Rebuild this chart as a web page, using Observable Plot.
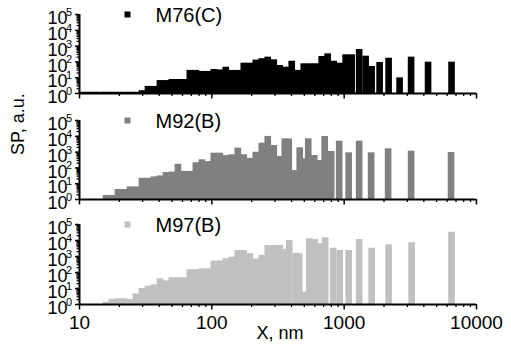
<!DOCTYPE html>
<html>
<head>
<meta charset="utf-8">
<script src="https://cdn.jsdelivr.net/npm/d3@7"></script>
<script src="https://cdn.jsdelivr.net/npm/@observablehq/plot@0.6"></script>
<style>
  html, body { margin: 0; padding: 0; background: #fff; }
  #wrap { position: relative; width: 511px; height: 348px; overflow: hidden; }
  #wrap svg { position: absolute; left: 0; }
</style>
</head>
<body>
<div id="wrap"></div>
<script>
// ---------- data ----------
const majorX = [10, 100, 1000, 10000];
const xTickLabels = ["10", "100", "1000", "10000"];
const majorY = [1, 10, 100, 1000, 10000, 100000];
const yExponents = ["0", "1", "2", "3", "4", "5"];
const seriesNames = ["M76(C)", "M92(B)", "M97(B)"];
const seriesColors = ["#000000", "#808080", "#c0c0c0"];
const xTitle = "X, nm";
const yTitle = "SP, a.u.";

// M76(C): bar centre (nm) and value
const m76X = [10.5, 11.7, 13.0, 14.4, 16.0, 17.7, 19.7, 21.9, 24.3, 26.9, 29.9, 33.2, 36.8, 40.9, 45.4, 50.3, 55.9, 62.0, 68.8, 76.4,
  84.8, 94.1, 104.4, 115.9, 128.6, 142.8, 158.5, 175.9, 195.3, 216.7, 240.5, 266.9, 296.3, 328.9, 365.0, 405.1, 449.6, 499.0, 553.9, 614.8,
  682.3, 757.2, 840.4, 932.8, 1035, 1149, 1309, 1466, 1627, 1869, 2186, 2647, 3232, 4342, 6534];
const m76V = [1.2, 1.2, 1.2, 1.2, 1.2, 1.2, 1.2, 1.2, 1.2, 1.2, 1.5, 2.8, 2.8, 6.6, 6.6, 7.7, 7.7, 7.7, 29, 29,
  25, 25, 33, 31, 46, 29, 29, 83, 83, 130, 160, 200, 135, 59, 46, 110, 29, 76, 76, 76,
  220, 325, 110, 83, 280, 280, 610, 230, 51, 92, 170, 9.8, 200, 96, 96];

// M92(B)
const m92X = [16.0, 17.7, 19.7, 21.9, 24.3, 26.9, 29.9, 33.2, 36.8, 40.9, 45.4, 50.3, 55.9, 62.0, 68.8, 76.4, 84.8, 94.1, 104.4, 115.9,
  128.6, 142.8, 158.5, 175.9, 195.3, 216.7, 240.5, 266.9, 296.3, 328.9, 358.7, 384.6, 423, 465.6, 499, 539.7, 599, 653.4, 718.9, 804.6,
  924.9, 1091, 1309, 1612, 2167, 3232, 6476];
const m92V = [1.8, 1.8, 4.3, 4.3, 6.3, 6.3, 22, 22, 27, 31, 51, 55, 170, 60, 60, 210, 325, 250, 850, 850,
  600, 680, 1780, 680, 400, 980, 3650, 9800, 2600, 530, 6800, 6800, 68, 1880, 375, 6900, 610, 295, 9700, 1100,
  4900, 900, 4900, 900, 1620, 1140, 940];

// M97(B)
const m97X = [16.0, 17.7, 19.7, 21.9, 24.3, 26.9, 29.9, 33.2, 36.8, 40.9, 45.4, 50.3, 55.9, 62.0, 68.8, 76.4, 84.8, 94.1, 104.4, 115.9,
  128.6, 142.8, 158.5, 175.9, 195.3, 216.7, 240.5, 266.9, 296.3, 328.9, 358.7, 387.9, 434, 461.5, 499, 549.1, 604, 659, 725, 833,
  932.8, 1091, 1309, 1627, 2186, 3261, 6534];
const m97V = [1.4, 2.1, 2.3, 2.3, 2.0, 4.5, 10, 14, 17, 40, 30, 47, 47, 47, 150, 150, 170, 170, 510, 530,
  720, 900, 2370, 2370, 1500, 700, 1200, 4900, 4900, 4900, 2800, 10000, 1600, 1500, 6, 12800, 11500, 6200, 14700, 3300,
  2370, 2370, 11500, 3300, 5400, 7200, 33000];

// ---------- drawing ----------
const FONT = "'Liberation Sans', Arial, Helvetica, sans-serif";
const halfWidth = Math.pow(10, 0.025); // bar half width factor on log axis
const minorX = d3.scaleLog().domain([10, 10000]).ticks().filter(d => !majorX.includes(d));
const minorY = d3.scaleLog().domain([1, 100000]).ticks().filter(d => !majorY.includes(d));

function panel(xs, vs, idx, top, height, marginBottom, withLabels) {
  const data = xs.map((x, i) => ({x, v: vs[i]}));
  const color = seriesColors[idx];
  const marks = [
    Plot.rectY(data, {x1: d => d.x / halfWidth, x2: d => d.x * halfWidth, y1: 1, y2: "v", fill: color}),
    Plot.axisX({ticks: minorX, tickSize: 3, tickFormat: () => "", strokeWidth: 1.3}),
    Plot.axisX({ticks: majorX, tickSize: 5.5, tickPadding: 5, strokeWidth: 1.5, fontSize: 19,
      tickFormat: withLabels ? (d => xTickLabels[majorX.indexOf(d)]) : (() => "")}),
    Plot.axisY({ticks: minorY, tickSize: 2.5, tickFormat: () => "", strokeWidth: 1.2}),
    Plot.axisY({ticks: majorY, tickSize: 4, tickFormat: () => "", strokeWidth: 1.5}),
    Plot.ruleY([1], {strokeWidth: 2}),
    Plot.ruleX([10], {strokeWidth: 2}),
    Plot.text(majorY, {y: d => d, frameAnchor: "left", text: () => "10", textAnchor: "end", dx: -12, dy: 4, fontSize: 18}),
    Plot.text(majorY, {y: d => d, frameAnchor: "left", text: (d, i) => yExponents[i], textAnchor: "end", dx: -7.5, dy: -2, fontSize: 11}),
    Plot.dot([0], {frameAnchor: "top-left", dx: 48, dy: 0, symbol: "square", r: 3.4, fill: color, stroke: null}),
    Plot.text([seriesNames[idx]], {frameAnchor: "top-left", dx: 76, dy: 1, textAnchor: "start", lineAnchor: "middle", fontSize: 20})
  ];
  if (idx === 1) {
    marks.push(Plot.text([yTitle], {frameAnchor: "left", rotate: -90, dx: -61, dy: -5, fontSize: 18}));
  }
  if (withLabels) {
    marks.push(Plot.text([xTitle], {frameAnchor: "bottom", dx: 2, dy: 29, lineAnchor: "middle", fontSize: 18}));
  }
  const svg = Plot.plot({
    width: 511,
    height,
    marginLeft: 79,
    marginRight: 35,
    marginTop: 14,
    marginBottom,
    x: {type: "log", domain: [10, 10000], label: null},
    y: {type: "log", domain: [1, 100000], label: null},
    style: {fontFamily: FONT, fontSize: "19px", background: "transparent", color: "#000", overflow: "visible"},
    marks
  });
  svg.style.position = "absolute";
  svg.style.top = top + "px";
  svg.style.left = "0px";
  return svg;
}

const wrap = document.getElementById("wrap");
wrap.appendChild(panel(m76X, m76V, 0, 0, 105, 12, false));
wrap.appendChild(panel(m92X, m92V, 1, 106, 105, 12, false));
wrap.appendChild(panel(m97X, m97V, 2, 210, 138, 44, true));
</script>
</body>
</html>
